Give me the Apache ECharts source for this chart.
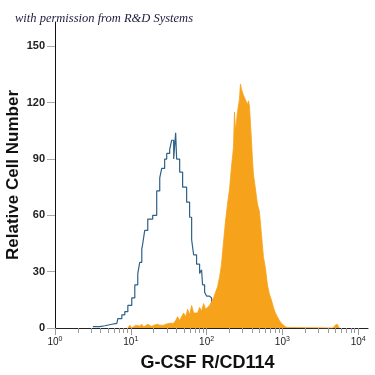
<!DOCTYPE html>
<html><head><meta charset="utf-8">
<script src="https://cdn.jsdelivr.net/npm/echarts@6/dist/echarts.min.js"></script>
<style>html,body{margin:0;padding:0;background:#fff}#c{width:375px;height:375px}</style>
</head><body><div id="c"></div>
<script>
// x positions are log10 of fluorescence intensity (decades)
const decadeTicks = [0, 1, 2, 3, 4];
const yTicks = [0, 30, 60, 90, 120, 150];
const xTitle = 'G-CSF R/CD114';
const yTitle = 'Relative Cell Number';
const watermark = 'with permission from R&D Systems';

// isotype control (blue outline)
const isoLogX = [0.500,0.592,0.658,0.750,0.816,0.829,0.882,0.921,0.961,1.013,1.053,1.092,1.118,1.145,1.158,1.184,1.224,1.289,1.342,1.382,1.408,1.447,1.474,1.513,1.539,1.566,1.592,1.605,1.645,1.684,1.737,1.776,1.803,1.829,1.868,1.908,1.934,1.947,1.974,2.000,2.039,2.066,2.105,2.145,2.184];
const isoCount = [0.7,1.2,2,2.5,3.4,5,7,8.7,12,16,23,29,35,42,45,52,58,60,73,80,85,90,93,95,100,90,104,90,83,75,67,59,47,39,34,29,31,23,19,17,16,11,6,3,0];

// stained cells (orange filled)
const stainLogX = [0.961,0.987,1.013,1.039,1.066,1.092,1.118,1.145,1.171,1.197,1.224,1.250,1.276,1.303,1.329,1.355,1.382,1.408,1.434,1.461,1.487,1.513,1.539,1.566,1.592,1.618,1.645,1.671,1.697,1.724,1.750,1.776,1.803,1.829,1.855,1.882,1.908,1.934,1.961,1.987,2.013,2.039,2.066,2.092,2.118,2.145,2.171,2.197,2.224,2.250,2.276,2.303,2.329,2.355,2.368,2.382,2.408,2.434,2.447,2.461,2.487,2.513,2.539,2.553,2.566,2.592,2.605,2.618,2.645,2.671,2.697,2.724,2.750,2.776,2.803,2.829,2.855,2.882,2.908,2.934,2.961,2.987,3.013,3.039,3.066,3.092,3.671,3.697,3.724,3.750];
const stainCount = [0,1.5,0,0.8,1.5,0.5,1,2,0.5,1.2,2,1,0.8,1.5,1,2,1.5,2.5,1.5,2,1.8,2.5,3,2.5,4,6,4,5,8,6,10,7,12,8,9,8,11,9,13,10,11,12,14,16,19,22,27,34,46,57,66,74,86,96,115,105,115,122,130,127,124,125,119,121,118,100,90,82,74,66,62,50,38,32,23,18,15,11,8,6,4,2.5,1.5,0.7,0.3,0,0,1.5,2,0];

const xMin = 0, xMax = 4.13, yMin = 0, yMax = 163;
const minorTicks = [];
decadeTicks.forEach(d => { for (let k = 2; k <= 9; k++) { const v = d + Math.log10(k); if (v < xMax) minorTicks.push(v); } });

const chart = echarts.init(document.getElementById('c'), null, {renderer: 'canvas'});
const font = "'Liberation Sans', Arial, sans-serif";
const grid = {left: 55, right: 7, top: 22, bottom: 47, containLabel: false, outerBoundsMode: 'none'};
chart.setOption({
  animation: false,
  backgroundColor: '#fff',
  title: {
    text: watermark, left: 10, top: 7,
    textStyle: {fontFamily: "'Liberation Serif', 'DejaVu Serif', serif", fontStyle: 'italic', fontWeight: 'normal', fontSize: 12.5, color: '#1c1c3c'}
  },
  grid: grid,
  xAxis: [{
    type: 'value', min: xMin, max: xMax,
    name: xTitle, nameLocation: 'middle', nameGap: 26, nameMoveOverlap: false,
    nameTextStyle: {fontFamily: font, fontWeight: 'bold', fontSize: 18, color: '#111', padding: [0, 8, 0, 0]},
    axisLine: {show: true, onZero: false, lineStyle: {color: '#222', width: 1}},
    axisTick: {show: true, customValues: decadeTicks, length: 7, lineStyle: {color: '#999'}},
    axisLabel: {
      customValues: decadeTicks, margin: 8,
      formatter: v => '{a|10}{b|' + v + '}',
      rich: {
        a: {fontFamily: font, fontSize: 10, color: '#222'},
        b: {fontFamily: font, fontSize: 7, color: '#222', verticalAlign: 'top', padding: [0,0,6,0]}
      }
    },
    splitLine: {show: false}
  }, {
    type: 'value', min: xMin, max: xMax, position: 'bottom',
    axisLine: {show: false},
    axisTick: {show: true, customValues: minorTicks, length: 5, lineStyle: {color: '#999'}},
    axisLabel: {show: false},
    splitLine: {show: false}
  }],
  yAxis: {
    type: 'value', min: yMin, max: yMax,
    name: yTitle, nameLocation: 'middle', nameGap: 33, nameMoveOverlap: false,
    nameTextStyle: {fontFamily: font, fontWeight: 'bold', fontSize: 17, color: '#111'},
    axisLine: {show: true, lineStyle: {color: '#111', width: 1}},
    axisTick: {show: true, customValues: yTicks, length: 8, lineStyle: {color: '#aaa'}},
    axisLabel: {customValues: yTicks, margin: 10, fontFamily: font, fontWeight: 'bold', fontSize: 11, color: '#222'},
    splitLine: {show: false}
  },
  series: [{
    type: 'line', name: 'isotype', step: 'end', showSymbol: false, z: 2,
    data: isoLogX.map((x, i) => [x, isoCount[i]]),
    lineStyle: {color: '#2e6088', width: 1.2}
  }, {
    type: 'line', name: 'stained', showSymbol: false, z: 3,
    data: stainLogX.map((x, i) => [x, stainCount[i]]),
    lineStyle: {color: '#f7a21b', width: 0.8},
    areaStyle: {color: '#f7a21b', opacity: 1}
  }]
});
</script>
</body></html>
